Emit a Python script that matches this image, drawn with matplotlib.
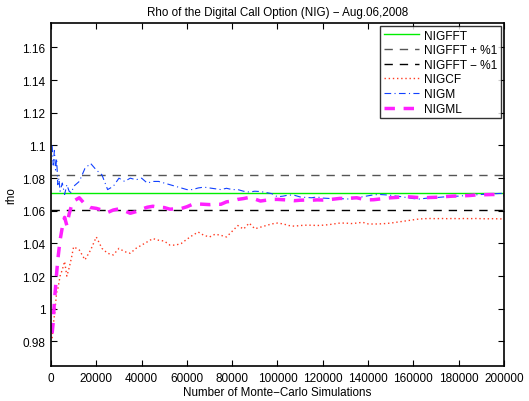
import numpy as np
import matplotlib
matplotlib.use('Agg')
import matplotlib.pyplot as plt
from matplotlib.ticker import FuncFormatter

plt.rcParams['font.family'] = ['Liberation Sans', 'DejaVu Sans']

# number of simulations (dense at start, then every 2500)
sims = np.concatenate([[500, 1000, 1500, 2000, 2500, 3000, 3500, 4000,
                        5000, 6000, 7000, 8000, 9000],
                       np.arange(10000, 200001, 2500)])

nigfft = 1.0710
nigfft_up = 1.0817
nigfft_dn = 1.0603

nigcf = [0.982, 0.990, 0.996, 1.003, 1.010, 1.012, 1.016, 1.020, 1.024, 1.029,
         1.020, 1.025, 1.031,
         1.038, 1.036, 1.030, 1.036, 1.044, 1.037, 1.034, 1.033, 1.037, 1.035,
         1.034, 1.037, 1.039, 1.041, 1.043, 1.042, 1.0415, 1.039, 1.039, 1.040,
         1.0426, 1.045, 1.047, 1.045, 1.044, 1.0457, 1.045, 1.044, 1.0475, 1.051,
         1.0488, 1.0525, 1.049, 1.050, 1.051, 1.052, 1.0525, 1.052, 1.051, 1.0506,
         1.051, 1.0512, 1.0512, 1.051, 1.0512, 1.0515, 1.052, 1.0525, 1.0525, 1.0522,
         1.0525, 1.053, 1.052, 1.0519, 1.052, 1.0522, 1.0525, 1.053, 1.0535, 1.054,
         1.0545, 1.055, 1.0552, 1.0553, 1.0552, 1.0553, 1.0552, 1.0553, 1.0552, 1.0553,
         1.0552, 1.0553, 1.0552, 1.0551, 1.0552, 1.0551, 1.0550]

nigm = [1.100, 1.088, 1.097, 1.085, 1.092, 1.076, 1.080, 1.072, 1.077, 1.070,
        1.076, 1.072, 1.071,
        1.075, 1.078, 1.086, 1.089, 1.085, 1.082, 1.073, 1.075, 1.080, 1.078,
        1.080, 1.079, 1.080, 1.077, 1.078, 1.078, 1.077, 1.076, 1.075, 1.074,
        1.073, 1.073, 1.074, 1.0745, 1.074, 1.0735, 1.073, 1.0738, 1.073, 1.073,
        1.072, 1.0715, 1.072, 1.0718, 1.0712, 1.0705, 1.0686, 1.0690, 1.0697, 1.0695,
        1.0685, 1.0682, 1.068, 1.0685, 1.0678, 1.0676, 1.0674, 1.0675, 1.0673, 1.0672,
        1.0680, 1.0686, 1.0692, 1.0698, 1.0700, 1.0698, 1.0695, 1.0690, 1.0686, 1.0680,
        1.0675, 1.0672, 1.0676, 1.0680, 1.0681, 1.0684, 1.0687, 1.0689, 1.0690, 1.0693,
        1.0696, 1.0698, 1.0700, 1.0702, 1.0704, 1.0706, 1.0707]

nigml = [0.985, 0.992, 1.005, 1.013, 1.022, 1.030, 1.036, 1.042, 1.050, 1.056,
         1.051, 1.058, 1.063,
         1.066, 1.068, 1.064, 1.062, 1.0615, 1.0605, 1.059, 1.0605, 1.0612, 1.060,
         1.0585, 1.0595, 1.061, 1.0622, 1.0628, 1.0622, 1.062, 1.061, 1.0612, 1.0614,
         1.0625, 1.064, 1.0642, 1.064, 1.0638, 1.0641, 1.064, 1.0655, 1.066, 1.067,
         1.0675, 1.0682, 1.0672, 1.066, 1.0665, 1.067, 1.067, 1.0668, 1.0666, 1.0662,
         1.0665, 1.0666, 1.0665, 1.0667, 1.0666, 1.0668, 1.0672, 1.0676, 1.0676, 1.0678,
         1.0680, 1.0672, 1.0667, 1.0668, 1.0672, 1.0676, 1.0680, 1.0682, 1.0685, 1.0686,
         1.0684, 1.0681, 1.0680, 1.0682, 1.0683, 1.0685, 1.0688, 1.0690, 1.0691, 1.0692,
         1.0694, 1.0697, 1.0698, 1.0699, 1.0700, 1.0699, 1.0697]

fig = plt.figure(figsize=(5.29, 4.02), dpi=100)
ax = fig.add_axes([0.0964, 0.0871, 0.8563, 0.8532])

ax.axhline(nigfft, color='#00ee00', lw=1.0, label='NIGFFT')
ax.axhline(nigfft_up, color='#555555', lw=1.0, ls=(0, (6, 5)), label='NIGFFT + %1')
ax.axhline(nigfft_dn, color='#000000', lw=1.0, ls=(0, (6, 5)), label='NIGFFT \u2212 %1')
ax.plot(sims, nigcf, color='#ff3a20', lw=1.0, ls=(0, (1, 2)), label='NIGCF')
ax.plot(sims, nigm, color='#1040ff', lw=0.8, ls=(0, (6, 3, 1, 3)), label='NIGM')
ax.plot(sims, nigml, color='#ff20ff', lw=2.5, ls=(0, (3, 2.5)), label='NIGML')

ax.set_xlim(0, 200000)
ax.set_ylim(0.965, 1.175)
ax.set_xticks(np.arange(0, 200001, 20000))
ax.set_yticks(np.arange(0.98, 1.161, 0.02))
ax.xaxis.set_major_formatter(FuncFormatter(lambda v, _: f'{v:.0f}'))
ax.yaxis.set_major_formatter(FuncFormatter(lambda v, _: f'{v:g}'))
ax.tick_params(direction='in', length=4, width=0.8, labelsize=8.5, pad=4,
               top=True, right=True)
for s in ax.spines.values():
    s.set_linewidth(1.2)

ax.set_title('Rho of the Digital Call Option (NIG) \u2212 Aug.06,2008', fontsize=8.4)
ax.set_xlabel('Number of Monte\u2212Carlo Simulations', fontsize=8.4, labelpad=2)
ax.set_ylabel('rho', fontsize=8.4)

leg = ax.legend(loc='upper right', fontsize=8.6, frameon=True, fancybox=False,
                borderaxespad=0.25, handlelength=3.0, handletextpad=0.4,
                labelspacing=0.22, borderpad=0.3)
leg.get_frame().set_edgecolor('black')
leg.get_frame().set_linewidth(1.0)

plt.savefig('out.png', dpi=100)
